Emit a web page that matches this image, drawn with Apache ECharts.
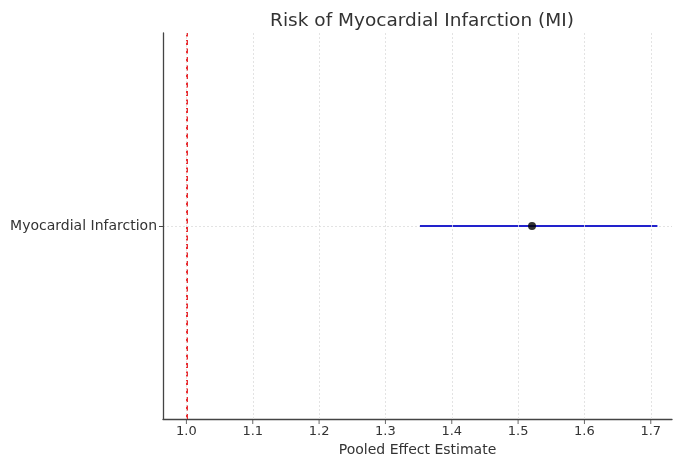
<!DOCTYPE html>
<html><head><meta charset="utf-8">
<script src="https://cdn.jsdelivr.net/npm/echarts@6/dist/echarts.min.js"></script>
<style>html,body{margin:0;padding:0;background:#fff}#c{width:673px;height:456px}</style>
</head><body><div id="c"></div>
<script>
const categories = ['Myocardial Infarction'];
const estimates = [1.521];
const lowerCI = [1.352];
const upperCI = [1.710];
const refValue = 1.0;
const xTicks = [1.0, 1.1, 1.2, 1.3, 1.4, 1.5, 1.6, 1.7];
const xMin = 0.9647, xMax = 1.732;

const yCats = [''].concat(categories).concat(['']);
const font = 'DejaVu Sans';
const chart = echarts.init(document.getElementById('c'));
const ciSeries = categories.map((c, i) => ({
  type: 'line', data: [[lowerCI[i], c], [upperCI[i], c]],
  symbol: 'none', lineStyle: {color: '#2222cc', width: 2}, silent: true, z: 3
}));
chart.setOption({
  animation: false,
  title: {text: 'Risk of Myocardial Infarction (MI)', left: 417, top: 7, textAlign: 'center',
    textStyle: {fontFamily: font, fontSize: 18.5, fontWeight: 'normal', color: '#333'}},
  grid: {left: 163, right: 1, top: 33, bottom: 37, containLabel: false, outerBoundsMode: 'none'},
  xAxis: {
    type: 'value', min: xMin, max: xMax,
    name: 'Pooled Effect Estimate', nameLocation: 'middle', nameGap: 23,
    nameTextStyle: {fontFamily: font, fontSize: 14, color: '#333'},
    axisLine: {show: true, onZero: false, lineStyle: {color: '#444', width: 1.3}},
    axisTick: {show: false},
    axisLabel: {customValues: xTicks, formatter: v => v.toFixed(1), fontFamily: font, fontSize: 13, color: '#333', margin: 6},
    splitLine: {show: false}
  },
  yAxis: {
    type: 'category', data: yCats, boundaryGap: false,
    axisLine: {show: true, onZero: false, lineStyle: {color: '#444', width: 1.3}},
    axisTick: {interval: (i) => i > 0 && i < yCats.length - 1, length: 4, lineStyle: {color: '#444'}},
    axisLabel: {interval: 0, fontFamily: font, fontSize: 14, color: '#333', margin: 6},
    splitLine: {show: true, interval: (i) => i > 0 && i < yCats.length - 1, lineStyle: {color: '#dcdcdc', type: [2, 2], width: 0.8}}
  },
  series: [
    ...ciSeries,
    {type: 'scatter', data: categories.map((c, i) => [estimates[i], c]), symbolSize: 8,
     itemStyle: {color: '#000'}, z: 5},
    {type: 'scatter', data: xTicks.map(v => [v, 0]), symbol: 'rect', symbolSize: [1, 5],
     symbolOffset: [0, 2.5], clip: false, silent: true, itemStyle: {color: '#444'}, z: 6},
    {type: 'line', data: [], markLine: {silent: true, symbol: 'none', label: {show: false},
      lineStyle: {color: '#e8141a', type: [5, 3.5], width: 1.8},
      data: [{xAxis: refValue}]}, z: 4},
    {type: 'line', data: [], markLine: {silent: true, symbol: 'none', label: {show: false},
      lineStyle: {color: '#dcdcdc', type: [2, 2], width: 0.8},
      data: xTicks.map(v => ({xAxis: v}))}, z: 1}
  ]
});
</script></body></html>
